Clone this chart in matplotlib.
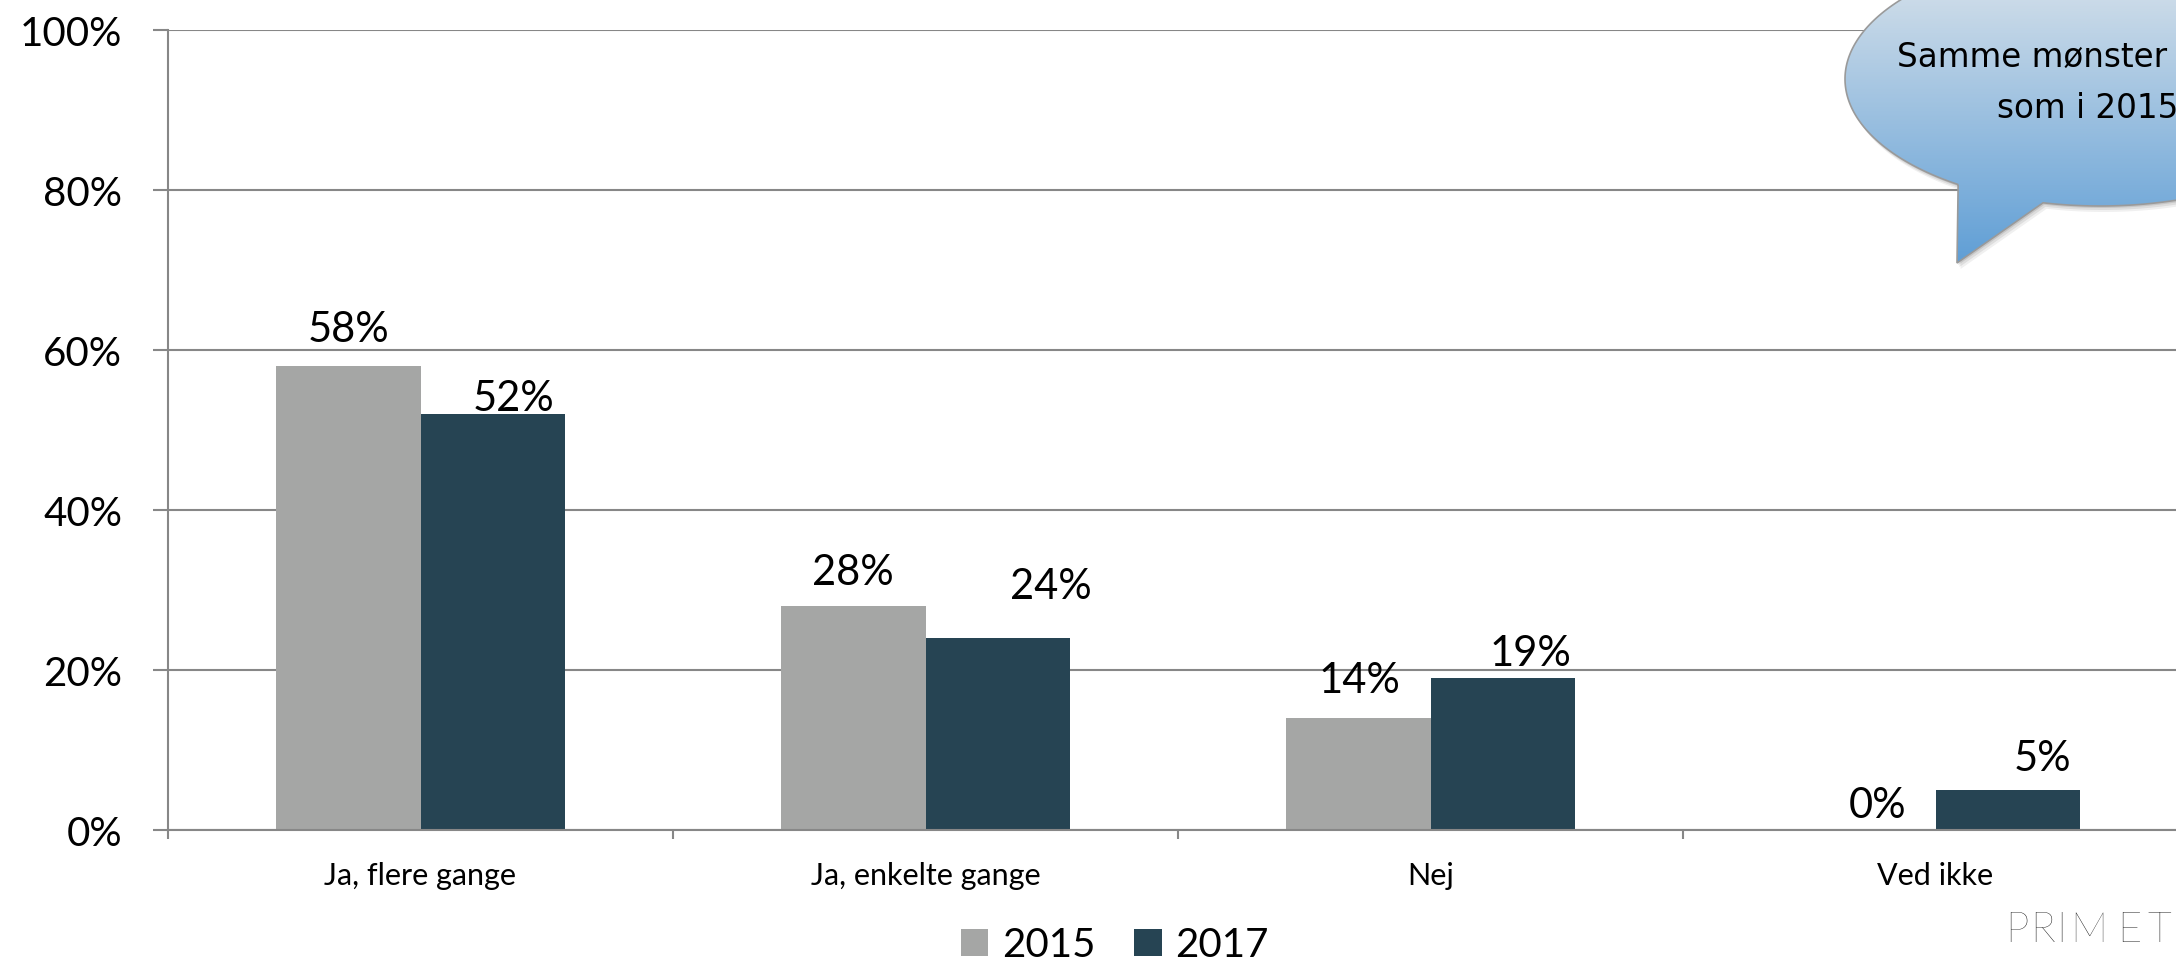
"""
Bar chart: 2015 vs 2017 answers, with speech-bubble callout.
"""

import numpy as np
import matplotlib
matplotlib.use("Agg")
import matplotlib.pyplot as plt
from matplotlib.path import Path
from matplotlib.patches import PathPatch
from matplotlib.colors import to_rgb

# ─── Data ──────────────────────────────────────────────────────────────────────
categories = ["Ja, flere gange", "Ja, enkelte gange", "Nej", "Ved ikke"]
series_names = ["2015", "2017"]
values_2015 = [0.58, 0.28, 0.14, 0.00]
values_2017 = [0.52, 0.24, 0.19, 0.05]
y_ticks = [0.0, 0.2, 0.4, 0.6, 0.8, 1.0]
callout_lines = ["Samme mønster", "som i 2015"]
logo_text = "PRIMET"

# label nudges (pixels) as placed in the original
label_dx_2015 = [0, 0, 1, 14]
label_dy_2015 = [25, 22, 26, 13]
label_dx_2017 = [21, 53, 28, 35]
label_dy_2017 = [4, 40, 13, 20]

# ─── Style ─────────────────────────────────────────────────────────────────────
W, H = 2176, 962
C2015 = "#a5a6a5"
C2017 = "#264453"
GRID = "#878787"
FONT = ["Lato", "DejaVu Sans"]
BAR_W = 1 / 3.5

plt.rcParams["font.family"] = FONT

fig = plt.figure(figsize=(W / 100, H / 100), dpi=100)
ax = fig.add_axes([168 / W, (H - 831) / H, (2188 - 168) / W, 800 / H])

x = np.arange(len(categories))
b1 = ax.bar(x - BAR_W / 2, values_2015, BAR_W, color=C2015, label=series_names[0], zorder=3)
b2 = ax.bar(x + BAR_W / 2, values_2017, BAR_W, color=C2017, label=series_names[1], zorder=3)

for xs, vals, dxs, dys in [(x - BAR_W / 2, values_2015, label_dx_2015, label_dy_2015),
                           (x + BAR_W / 2, values_2017, label_dx_2017, label_dy_2017)]:
    for xi, v, dx, dy in zip(xs, vals, dxs, dys):
        ax.annotate(f"{v * 100:.0f}%", xy=(xi, v), xytext=(dx, dy),
                    textcoords="offset pixels", ha="center", va="baseline",
                    fontsize=30, color="black", zorder=5)

ax.set_xlim(-0.5, len(categories) - 0.5)
ax.set_ylim(0, 1)
ax.set_yticks(y_ticks)
ax.set_yticklabels([f"{t * 100:.0f}%" for t in y_ticks])
ax.set_xticks(x)
ax.set_xticklabels(categories)
ax.set_xticks(np.arange(-0.5, len(categories) + 0.5, 1), minor=True)

ax.tick_params(axis="y", direction="out", length=11, width=1.5, color=GRID,
               labelsize=29, pad=22)
ax.tick_params(axis="x", which="major", length=0, labelsize=22, pad=22)
ax.tick_params(axis="x", which="minor", direction="out", length=6.5, width=1.5, color=GRID)

ax.yaxis.grid(True, color=GRID, linewidth=1.5, zorder=0)
ax.set_axisbelow(True)
for s in ["top", "right"]:
    ax.spines[s].set_visible(False)
for s in ["left", "bottom"]:
    ax.spines[s].set_color(GRID)
    ax.spines[s].set_linewidth(1.5)
    ax.spines[s].set_zorder(4)

# legend (bottom edge is cut by the frame, as in the original)
fig.legend(handles=[b1, b2], loc="center", bbox_to_anchor=(1115 / W, 1 - 946 / H),
           ncol=2, frameon=False, handlelength=0.68, handleheight=0.68,
           handletextpad=0.35, columnspacing=0.95, borderpad=0, borderaxespad=0,
           prop={"family": FONT, "size": 29})

# ─── Callout bubble (overlay in pixel coords) ──────────────────────────────────
ov = fig.add_axes([0, 0, 1, 1], zorder=10)
ov.set_xlim(0, W)
ov.set_ylim(H, 0)
ov.axis("off")

cx, cy, a, b = 2100, 80, 255, 127
tip = (1957, 264)
t_right, t_left = np.deg2rad(102.9), np.deg2rad(123.8)
t1 = np.linspace(t_left, t_right + 2 * np.pi, 300)
pts = [(cx + a * np.cos(t), cy + b * np.sin(t)) for t in t1]
pts.append(tip)
pts.append(pts[0])
bubble = Path(pts, closed=True)

for off, al in [(6, 0.06), (4, 0.08), (2, 0.10)]:
    ov.add_patch(PathPatch(Path(np.array(pts) + [off * 0.6, off]), facecolor="black",
                           alpha=al, edgecolor="none"))

patch = PathPatch(bubble, facecolor="none", edgecolor="#9a9a9a", linewidth=1.2, zorder=3)
ov.add_patch(patch)

top_c, bot_c = np.array(to_rgb("#dfe6ec")), np.array(to_rgb("#5d9dd5"))
g = np.linspace(0, 1, 256)[:, None, None]
grad = top_c * (1 - g) + bot_c * g
img = ov.imshow(grad, extent=[1800, W, 270, -50], aspect="auto", zorder=2)
img.set_clip_path(PathPatch(bubble, transform=ov.transData))
ov.set_xlim(0, W)
ov.set_ylim(H, 0)

ov.text(1897, 67, callout_lines[0], ha="left", va="baseline", fontsize=23.5,
        family=["DejaVu Sans"], zorder=4)
ov.text(1997, 118, callout_lines[1], ha="left", va="baseline", fontsize=23.5,
        family=["DejaVu Sans"], zorder=4)

# logo, clipped at the right edge like the original
for ch, lx in zip(logo_text, [2005, 2030, 2056, 2070, 2117, 2147]):
    ov.text(lx, 942, ch, ha="left", va="baseline", fontsize=30,
            fontweight="light", color="#111111", zorder=4)

fig.savefig("out.png", dpi=100)
